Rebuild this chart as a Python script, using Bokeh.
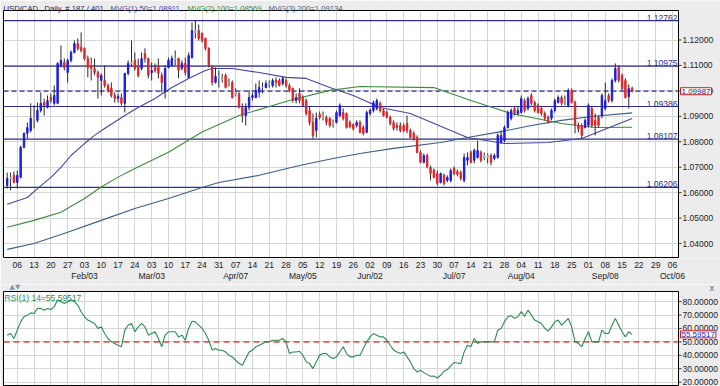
from bokeh.plotting import figure
from bokeh.models import Range1d, Label, FixedTicker, LinearAxis, ColumnDataSource
from bokeh.layouts import column
from bokeh.core.properties import value
from bokeh.embed import file_html
from bokeh.resources import INLINE

# ---------------- data (daily bars, USD/CAD) ----------------
opens = [
    1.0628, 1.0656, 1.0668, 1.0640, 1.0660, 1.0778, 1.0833, 1.0844, 1.0892, 1.0884,
    1.0923, 1.0954, 1.0935, 1.0974, 1.0951, 1.0951, 1.1100, 1.1112, 1.1072, 1.1120,
    1.1151, 1.1186, 1.1171, 1.1167, 1.1127, 1.1100, 1.1088, 1.1072, 1.1041, 1.1041,
    1.1021, 1.1010, 1.0982, 1.0970, 1.0974, 1.0951, 1.1068, 1.1108, 1.1120, 1.1100,
    1.1088, 1.1147, 1.1127, 1.1072, 1.1092, 1.1100, 1.1061, 1.1002, 1.1092, 1.1100,
    1.1127, 1.1127, 1.1088, 1.1108, 1.1053, 1.1131, 1.1237, 1.1237, 1.1226, 1.1206,
    1.1167, 1.1100, 1.1033, 1.1057, 1.1053, 1.1061, 1.1029, 1.1033, 1.0986, 1.0990,
    1.0935, 1.0903, 1.0935, 1.0974, 1.0974, 1.0994, 1.1013, 1.1013, 1.1025, 1.1021,
    1.1041, 1.1041, 1.1029, 1.1041, 1.1021, 1.1010, 1.0962, 1.0990, 1.0970, 1.0962,
    1.0923, 1.0876, 1.0844, 1.0907, 1.0896, 1.0896, 1.0892, 1.0868, 1.0876, 1.0903,
    1.0915, 1.0911, 1.0876, 1.0868, 1.0864, 1.0876, 1.0856, 1.0837, 1.0911, 1.0923,
    1.0931, 1.0951, 1.0923, 1.0915, 1.0896, 1.0876, 1.0864, 1.0864, 1.0864, 1.0872,
    1.0844, 1.0833, 1.0817, 1.0758, 1.0719, 1.0746, 1.0699, 1.0687, 1.0675, 1.0640,
    1.0668, 1.0648, 1.0648, 1.0695, 1.0683, 1.0679, 1.0648, 1.0727, 1.0758, 1.0727,
    1.0738, 1.0758, 1.0746, 1.0738, 1.0746, 1.0734, 1.0738, 1.0797, 1.0805, 1.0856,
    1.0892, 1.0931, 1.0911, 1.0915, 1.0962, 1.0931, 1.0982, 1.0954, 1.0943, 1.0931,
    1.0911, 1.0896, 1.0892, 1.0923, 1.0954, 1.0974, 1.0958, 1.0943, 1.1002, 1.0954,
    1.0864, 1.0864, 1.0856, 1.0864, 1.0931, 1.0884, 1.0896, 1.0903, 1.0931, 1.0982,
    1.0962, 1.1041, 1.1092, 1.1061, 1.1041, 1.0978, 1.1010]
highs = [
    1.0679, 1.0679, 1.0683, 1.0687, 1.0785, 1.0837, 1.0876, 1.0951, 1.0943, 1.0954,
    1.0994, 1.0970, 1.0982, 1.0990, 1.1021, 1.1112, 1.1178, 1.1127, 1.1127, 1.1159,
    1.1198, 1.1206, 1.1230, 1.1171, 1.1139, 1.1131, 1.1127, 1.1080, 1.1068, 1.1100,
    1.1029, 1.1033, 1.0994, 1.0990, 1.0990, 1.1072, 1.1120, 1.1198, 1.1151, 1.1127,
    1.1151, 1.1167, 1.1131, 1.1112, 1.1108, 1.1127, 1.1072, 1.1100, 1.1131, 1.1139,
    1.1159, 1.1131, 1.1120, 1.1131, 1.1151, 1.1269, 1.1277, 1.1261, 1.1230, 1.1210,
    1.1171, 1.1100, 1.1092, 1.1080, 1.1068, 1.1068, 1.1049, 1.1041, 1.1010, 1.0994,
    1.0951, 1.0951, 1.1002, 1.0994, 1.1029, 1.1041, 1.1033, 1.1041, 1.1041, 1.1049,
    1.1053, 1.1049, 1.1057, 1.1049, 1.1029, 1.1013, 1.0990, 1.1010, 1.0982, 1.0970,
    1.0939, 1.0911, 1.0915, 1.0919, 1.0919, 1.0903, 1.0896, 1.0888, 1.0923, 1.0951,
    1.0931, 1.0915, 1.0884, 1.0872, 1.0884, 1.0884, 1.0864, 1.0923, 1.0931, 1.0962,
    1.0970, 1.0958, 1.0931, 1.0923, 1.0903, 1.0884, 1.0876, 1.0876, 1.0872, 1.0903,
    1.0852, 1.0841, 1.0825, 1.0766, 1.0754, 1.0754, 1.0707, 1.0695, 1.0687, 1.0679,
    1.0675, 1.0668, 1.0695, 1.0703, 1.0691, 1.0687, 1.0754, 1.0758, 1.0766, 1.0774,
    1.0805, 1.0766, 1.0758, 1.0754, 1.0754, 1.0754, 1.0833, 1.0844, 1.0864, 1.0923,
    1.0931, 1.0939, 1.0939, 1.0982, 1.0970, 1.0978, 1.0990, 1.0962, 1.0951, 1.0939,
    1.0919, 1.0903, 1.0931, 1.0970, 1.0982, 1.0982, 1.0982, 1.1010, 1.1010, 1.0962,
    1.0876, 1.0872, 1.0892, 1.0951, 1.0939, 1.0911, 1.0903, 1.0990, 1.1033, 1.0990,
    1.1049, 1.1108, 1.1100, 1.1068, 1.1049, 1.1025, 1.1017]
lows = [
    1.0616, 1.0609, 1.0636, 1.0616, 1.0656, 1.0774, 1.0813, 1.0837, 1.0852, 1.0876,
    1.0915, 1.0903, 1.0931, 1.0951, 1.0943, 1.0947, 1.1092, 1.1080, 1.1033, 1.1112,
    1.1147, 1.1159, 1.1151, 1.1120, 1.1053, 1.1041, 1.1061, 1.0970, 1.0982, 1.1013,
    1.0994, 1.0974, 1.0954, 1.0954, 1.0943, 1.0915, 1.1061, 1.1096, 1.1080, 1.1053,
    1.1080, 1.1112, 1.1049, 1.1041, 1.1072, 1.1049, 1.0994, 1.0970, 1.1088, 1.1096,
    1.1100, 1.1049, 1.1080, 1.1061, 1.1049, 1.1127, 1.1206, 1.1198, 1.1190, 1.1159,
    1.1092, 1.1021, 1.1029, 1.1013, 1.1033, 1.1010, 1.1017, 1.0970, 1.0978, 1.0931,
    1.0876, 1.0864, 1.0923, 1.0962, 1.0970, 1.0974, 1.0990, 1.1010, 1.1013, 1.1013,
    1.1013, 1.1017, 1.1021, 1.1013, 1.0994, 1.0954, 1.0951, 1.0951, 1.0939, 1.0903,
    1.0864, 1.0813, 1.0817, 1.0888, 1.0884, 1.0864, 1.0856, 1.0856, 1.0872, 1.0896,
    1.0884, 1.0852, 1.0852, 1.0844, 1.0856, 1.0833, 1.0825, 1.0833, 1.0903, 1.0915,
    1.0923, 1.0915, 1.0899, 1.0892, 1.0864, 1.0844, 1.0844, 1.0837, 1.0837, 1.0833,
    1.0813, 1.0805, 1.0754, 1.0715, 1.0715, 1.0695, 1.0648, 1.0656, 1.0628, 1.0636,
    1.0628, 1.0640, 1.0640, 1.0668, 1.0664, 1.0648, 1.0640, 1.0707, 1.0715, 1.0715,
    1.0734, 1.0719, 1.0727, 1.0715, 1.0707, 1.0727, 1.0734, 1.0793, 1.0797, 1.0852,
    1.0884, 1.0903, 1.0903, 1.0911, 1.0915, 1.0923, 1.0943, 1.0915, 1.0911, 1.0903,
    1.0884, 1.0872, 1.0884, 1.0915, 1.0951, 1.0943, 1.0943, 1.0935, 1.0951, 1.0833,
    1.0837, 1.0813, 1.0852, 1.0856, 1.0856, 1.0825, 1.0856, 1.0892, 1.0923, 1.0954,
    1.0954, 1.1033, 1.1033, 1.1002, 1.0970, 1.0931, 1.0994]
closes = [
    1.0656, 1.0660, 1.0640, 1.0668, 1.0778, 1.0833, 1.0856, 1.0892, 1.0896, 1.0923,
    1.0951, 1.0943, 1.0962, 1.0962, 1.0982, 1.1108, 1.1120, 1.1092, 1.1120, 1.1151,
    1.1186, 1.1167, 1.1159, 1.1127, 1.1092, 1.1088, 1.1072, 1.1053, 1.1061, 1.1021,
    1.1002, 1.0982, 1.0970, 1.0978, 1.0951, 1.1068, 1.1108, 1.1112, 1.1088, 1.1061,
    1.1127, 1.1127, 1.1061, 1.1080, 1.1080, 1.1068, 1.1033, 1.1088, 1.1120, 1.1127,
    1.1123, 1.1080, 1.1108, 1.1072, 1.1139, 1.1237, 1.1230, 1.1206, 1.1198, 1.1167,
    1.1100, 1.1033, 1.1057, 1.1053, 1.1045, 1.1013, 1.1033, 1.0974, 1.0994, 1.0935,
    1.0903, 1.0935, 1.0974, 1.0982, 1.1002, 1.1013, 1.1013, 1.1029, 1.1029, 1.1041,
    1.1033, 1.1021, 1.1049, 1.1021, 1.1002, 1.0962, 1.0974, 1.0962, 1.0943, 1.0911,
    1.0876, 1.0825, 1.0892, 1.0896, 1.0903, 1.0876, 1.0864, 1.0876, 1.0915, 1.0943,
    1.0892, 1.0856, 1.0860, 1.0852, 1.0876, 1.0837, 1.0833, 1.0915, 1.0923, 1.0954,
    1.0962, 1.0923, 1.0903, 1.0896, 1.0872, 1.0852, 1.0856, 1.0844, 1.0844, 1.0844,
    1.0817, 1.0813, 1.0758, 1.0719, 1.0746, 1.0703, 1.0675, 1.0660, 1.0636, 1.0675,
    1.0636, 1.0660, 1.0687, 1.0675, 1.0672, 1.0656, 1.0738, 1.0738, 1.0719, 1.0766,
    1.0766, 1.0727, 1.0738, 1.0746, 1.0719, 1.0746, 1.0825, 1.0825, 1.0856, 1.0915,
    1.0923, 1.0911, 1.0923, 1.0970, 1.0923, 1.0970, 1.0951, 1.0923, 1.0915, 1.0911,
    1.0892, 1.0876, 1.0923, 1.0962, 1.0974, 1.0951, 1.0962, 1.1002, 1.0954, 1.0864,
    1.0852, 1.0825, 1.0884, 1.0943, 1.0864, 1.0864, 1.0864, 1.0982, 1.0962, 1.0962,
    1.1041, 1.1088, 1.1041, 1.1010, 1.0974, 1.1010, 1.09987]

rsi = [
    55.0, 56.2, 52.5, 58.7, 64.9, 68.7, 69.9, 71.6, 71.1, 74.9,
    74.9, 73.6, 74.9, 74.1, 76.1, 81.1, 79.9, 78.6, 79.9, 81.1,
    79.9, 77.4, 72.4, 68.7, 66.2, 64.9, 63.7, 60.0, 61.2, 56.2,
    52.5, 50.0, 48.8, 47.5, 46.3, 58.7, 62.4, 63.7, 57.5, 61.2,
    63.7, 61.2, 55.0, 56.2, 57.5, 52.5, 46.3, 55.0, 57.5, 57.5,
    57.5, 53.7, 55.0, 51.2, 60.0, 65.4, 64.9, 62.4, 60.0, 56.2,
    51.2, 43.8, 45.0, 43.8, 43.8, 42.5, 40.0, 38.8, 36.3, 33.8,
    32.6, 37.6, 42.5, 43.8, 46.3, 47.5, 48.8, 50.0, 50.0, 51.2,
    51.2, 51.2, 52.5, 50.0, 41.3, 42.5, 42.5, 43.0, 40.0, 35.1,
    33.8, 30.1, 35.1, 40.0, 41.3, 41.3, 38.8, 37.6, 38.8, 42.5,
    46.3, 41.3, 38.8, 38.8, 40.0, 40.0, 45.0, 50.0, 53.7, 56.2,
    55.0, 53.7, 53.7, 51.2, 47.5, 43.8, 42.5, 41.3, 42.5, 38.8,
    35.1, 30.1, 27.6, 28.9, 27.1, 25.6, 24.4, 24.6, 23.1, 25.1,
    28.1, 29.4, 32.1, 34.6, 34.3, 33.8, 42.5, 47.5, 46.3, 52.5,
    48.8, 50.0, 50.0, 50.0, 50.0, 50.0, 58.7, 60.0, 64.9, 68.7,
    69.4, 67.5, 68.7, 72.5, 69.0, 73.6, 69.9, 66.2, 64.9, 63.7,
    60.0, 58.0, 61.2, 64.9, 66.2, 62.4, 64.9, 67.4, 61.2, 50.0,
    48.8, 46.3, 52.5, 57.5, 50.0, 50.0, 50.0, 58.7, 56.2, 56.2,
    62.4, 67.4, 62.4, 57.5, 53.7, 57.5, 55.59517]

# moving averages (bar index, value)
ma50_idx = [0, 6, 9, 13, 16, 19, 23, 26, 29, 35, 39, 44, 49, 54, 59, 61, 67, 75, 83,
            89, 96, 103, 111, 120, 132, 137, 148, 161, 171, 177, 186]
ma50_val = [1.0554, 1.0581, 1.0616, 1.0660, 1.0699, 1.0746, 1.0793, 1.0825, 1.0852,
            1.0903, 1.0935, 1.0970, 1.1013, 1.1049, 1.1080, 1.1088, 1.1088, 1.1072,
            1.1053, 1.1049, 1.1013, 1.0982, 1.0935, 1.0911, 1.0844, 1.0817, 1.0793,
            1.0797, 1.0813, 1.0844, 1.08911]
ma100_idx = [0, 8, 16, 23, 28, 33, 38, 48, 58, 69, 84, 96, 105, 127, 138, 150, 165, 175, 186]
ma100_val = [1.0464, 1.0491, 1.0523, 1.0577, 1.0622, 1.0661, 1.0695, 1.0759, 1.0838,
             1.0903, 1.0962, 1.1002, 1.1017, 1.1013, 1.0962, 1.0911, 1.0872, 1.0856, 1.08569]
ma200_idx = [0, 8, 18, 28, 38, 48, 58, 63, 75, 87, 97, 105, 115, 129, 137, 147, 156,
             165, 174, 186]
ma200_val = [1.0377, 1.0400, 1.0444, 1.0491, 1.0538, 1.0577, 1.0620, 1.0640, 1.0668,
             1.0707, 1.0734, 1.0754, 1.0774, 1.0797, 1.0817, 1.0840, 1.0864, 1.0884,
             1.0899, 1.09134]

levels = [1.12762, 1.10975, 1.09386, 1.08107, 1.06206]
price_ticks = [1.04, 1.05, 1.06, 1.07, 1.08, 1.09, 1.10, 1.11, 1.12]
rsi_ticks = [20, 30, 40, 50, 60, 70, 80]
rsi_mid = 50

day_labels = ["06", "13", "20", "27", "03", "10", "17", "24", "03", "10", "17", "24", "31",
              "07", "14", "21", "28", "05", "12", "19", "26", "02", "09", "16", "23", "30",
              "07", "14", "21", "28", "04", "11", "18", "25", "01", "08", "15", "22", "29",
              "06"]
month_labels = ["Feb/03", "Mar/03", "Apr/07", "May/05", "Jun/02", "Jul/07", "Aug/04",
                "Sep/08", "Oct/06"]
month_week = [4, 8, 13, 17, 21, 26, 30, 35, 39]
first_monday = 3          # bar index of Monday 06 Jan
total_bars = 401

# ---------------- styling ----------------
FONT = "Liberation Sans"
FS = "8.5px"
BG = "#ececec"
GRID = "#d6d6d6"
NAVY = "#2e2e8c"
BLUE = "#1f1fe0"
RED = "#e02828"
GRAY = "#a6a6a6"
C50 = "#4646a0"
C100 = "#3d8a3d"
C200 = "#3a5f86"
CRSI = "#2f8a50"
TXT = "#222222"

n = len(closes)
idx = list(range(n))
tick_pos = [first_monday + 5 * k for k in range(len(day_labels))]
month_pos = [first_monday + 5 * w for w in month_week]

# plot-area extents (data) and their pixel geometry on the 720 px wide page
X0, X1 = -1.1, 199.8            # left / right edge of the plotting area
PL, PR = 3, 678                 # their page x
PXX = (X1 - X0) / (PR - PL)     # data units per pixel along x
XR = Range1d(X0 - PL * PXX, X1 + (720 - PR) * PXX)

Y0, Y1 = 1.0345, 1.1316         # price-area bottom / top
PT, PB = 10, 257
PXY = (Y1 - Y0) / (PB - PT)
YR = Range1d(Y0 - 1 * PXY, Y1 + PT * PXY)
MAIN_H, AX_H = 284, 26

R0, R1 = 17.5, 87.5             # RSI-area bottom / top
RT, RB = 291, 385               # page y
PXR = (R1 - R0) / (RB - RT)
RSI_TOP = MAIN_H                # page y where the RSI figure starts
RR = Range1d(R0 - (386 - RB) * PXR, R1 + (RT - RSI_TOP) * PXR)


def chrome(f, ylo, yhi, rng):
    """grey surroundings of the plotting area"""
    f.quad(left=[X1, XR.start, XR.start, XR.start],
           right=[XR.end, XR.end, X0, XR.end],
           bottom=[rng.start, yhi, rng.start, rng.start],
           top=[rng.end, rng.end, rng.end, ylo],
           fill_color=BG, line_color=None)


def border_and_scale(f, ylo, yhi, ticks, fmt):
    f.quad(left=[X0], right=[X1], bottom=[ylo], top=[yhi], fill_color=None,
           line_color="black", line_width=1)
    f.segment(x0=X1, y0=ticks, x1=X1 + 3 * PXX, y1=ticks, line_color="#333333")
    f.text(x=X1 + 4 * PXX, y=ticks, text=[fmt(t) for t in ticks], text_baseline="middle",
           text_font=value(FONT), text_font_size=FS, text_color=TXT)


# ---------------- main price panel ----------------
p = figure(width=720, height=MAIN_H, x_range=XR, y_range=YR, output_backend="svg",
           toolbar_location=None, y_axis_location=None,
           min_border_left=0, min_border_right=0, min_border_top=0,
           min_border_bottom=AX_H, background_fill_color="white",
           border_fill_color=BG, outline_line_color=None)

xa = p.xaxis[0]
xa.ticker = FixedTicker(ticks=tick_pos)
xa.major_label_overrides = {t: l for t, l in zip(tick_pos, day_labels)}
mo = LinearAxis(ticker=FixedTicker(ticks=month_pos),
                major_label_overrides={t: l for t, l in zip(month_pos, month_labels)})
p.add_layout(mo, "below")
for ax in (xa, mo):
    ax.axis_line_color = None
    ax.major_tick_line_color = None
    ax.minor_tick_line_color = None
    ax.major_tick_out = 0
    ax.major_tick_in = 0
    ax.minor_tick_out = 0
    ax.minor_tick_in = 0
    ax.major_label_text_font = FONT
    ax.major_label_text_font_size = FS
    ax.major_label_text_color = TXT
xa.major_label_standoff = 3
mo.major_label_standoff = 0

p.xgrid.ticker = FixedTicker(ticks=tick_pos)
p.ygrid.ticker = FixedTicker(ticks=price_ticks)
p.grid.grid_line_color = GRID

chrome(p, Y0, Y1, YR)

last = closes[-1]
p.segment(x0=X0, y0=levels, x1=X1, y1=levels, line_color=NAVY, line_width=1.2)
p.segment(x0=[X0], y0=[last], x1=[X1], y1=[last], line_color=NAVY, line_width=1.2,
          line_dash="5 3")

p.line(ma200_idx, ma200_val, line_color=C200, line_width=1.1)
p.line(ma100_idx, ma100_val, line_color=C100, line_width=1.1)
p.line(ma50_idx, ma50_val, line_color=C50, line_width=1.1)

colors = []
for o, c in zip(opens, closes):
    if abs(c - o) < 0.0008:
        colors.append(GRAY)
    elif c > o:
        colors.append(BLUE)
    else:
        colors.append(RED)
src = ColumnDataSource(dict(x=idx, h=highs, l=lows,
                            top=[max(a, b) for a, b in zip(opens, closes)],
                            bot=[min(a, b) for a, b in zip(opens, closes)],
                            col=colors))
p.segment("x", "h", "x", "l", source=src, line_color="#2a2a2a", line_width=1)
p.vbar(x="x", top="top", bottom="bot", width=0.42, source=src,
       fill_color="col", line_color="col", line_width=1)

border_and_scale(p, Y0, Y1, price_ticks, lambda t: f"{t:.5f}")

p.text(x=X1 - 1 * PXX, y=levels, text=[f"{lv:.5f}" for lv in levels],
       text_align="right", text_baseline="bottom", text_font=value(FONT),
       text_font_size=FS, text_color=NAVY)

p.add_layout(Label(x=X1, y=last, text=f"{last:.5f}", x_offset=2, text_align="left",
                   text_baseline="middle", text_font=FONT, text_font_size="8px",
                   text_color="#1a1a80", background_fill_color="white",
                   border_line_color="#cc2020", padding=1))

# title line (on the grey strip above the plot)
seg_text = [f"USD/CAD , Daily, # {n} / {total_bars},",
            f"MVG(1) 50={ma50_val[-1]:.5f},",
            f"MVG(2) 100={ma100_val[-1]:.5f},",
            f"MVG(3) 200={ma200_val[-1]:.5f}"]
seg_px = [3, 110, 187, 268]
seg_col = ["#1c1c50", C50, C100, C200]
for t, sx, col in zip(seg_text, seg_px, seg_col):
    p.add_layout(Label(x=X0 + (sx - PL) * PXX, y=Y1 + 1.8 * PXY, text=t,
                       text_baseline="alphabetic", text_font=FONT,
                       text_font_size="7.7px", text_color=col))

# ---------------- RSI panel ----------------
p2 = figure(width=720, height=386 - MAIN_H, x_range=XR, y_range=RR, output_backend="svg",
            toolbar_location=None, y_axis_location=None, x_axis_location=None,
            min_border_left=0, min_border_right=0, min_border_top=0, min_border_bottom=0,
            background_fill_color="white", border_fill_color=BG, outline_line_color=None)
p2.xgrid.ticker = FixedTicker(ticks=tick_pos)
p2.ygrid.ticker = FixedTicker(ticks=rsi_ticks)
p2.grid.grid_line_color = GRID

chrome(p2, R0, R1, RR)
p2.segment(x0=[X0], y0=[rsi_mid], x1=[X1], y1=[rsi_mid], line_color="#e05a5a",
           line_width=1.6, line_dash="6 4")
p2.line(idx, rsi, line_color=CRSI, line_width=1.1)
border_and_scale(p2, R0, R1, rsi_ticks, lambda t: f"{t:.5f}")

p2.add_layout(Label(x=X0 + 1 * PXX, y=R1 - 1 * PXR, text=f"RSI(1) 14={rsi[-1]:.5f}",
                    text_baseline="top", text_font=FONT, text_font_size=FS,
                    text_color=CRSI))
p2.add_layout(Label(x=X1, y=rsi[-1], text=f"{rsi[-1]:.5f}", x_offset=2, text_align="left",
                    text_baseline="middle", text_font=FONT, text_font_size="8px",
                    text_color="#1a1acc", background_fill_color="white",
                    border_line_color="#cc2020", padding=1))
# panel icons on the grey strip above the RSI area
p2.add_layout(Label(x=X0 + 6 * PXX, y=R1 + 0.5 * PXR, text="\u25b2\u25bc",
                    text_baseline="bottom", text_font="DejaVu Sans", text_font_size="7px",
                    text_color="#8795ab"))
p2.add_layout(Label(x=X1 + 31 * PXX, y=R1 + 3.5 * PXR, text="x", text_baseline="middle",
                    text_font="DejaVu Sans", text_font_size="8px", text_color="#5a6b8c"))

layout = column(p, p2)
open("out.html", "w").write(file_html(layout, INLINE))
